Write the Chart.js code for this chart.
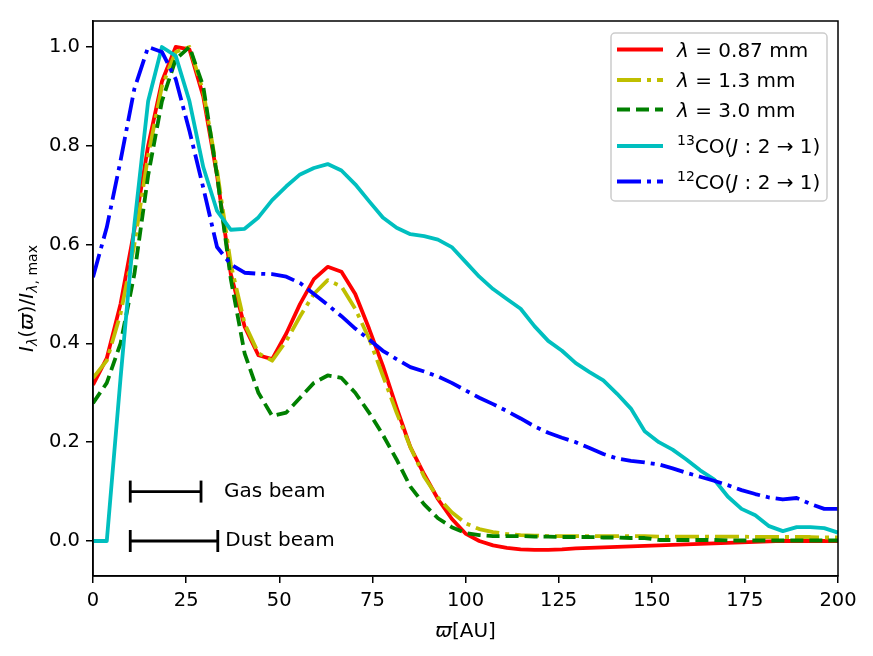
<!DOCTYPE html>
<html>
<head>
<meta charset="utf-8">
<script src="https://cdn.jsdelivr.net/npm/chart.js@4.4.1/dist/chart.umd.min.js"></script>
<style>
  html, body { margin: 0; padding: 0; background: #fff; }
  canvas { display: block; }
</style>
</head>
<body>
<canvas id="profileChart" width="873" height="656"></canvas>
<script>
// radial grid in AU
const radius = [
  0, 3.7, 7.4, 11.1, 14.8, 18.5, 22.2, 25.9, 29.6, 33.3,
  37.0, 40.7, 44.4, 48.1, 51.9, 55.6, 59.3, 63.0, 66.7, 70.4,
  74.1, 77.8, 81.5, 85.2, 88.9, 92.6, 96.3, 100.0, 103.7, 107.4,
  111.1, 114.8, 118.5, 122.2, 125.9, 129.6, 133.3, 137.0, 140.7, 144.4,
  148.1, 151.9, 155.6, 159.3, 163.0, 166.7, 170.4, 174.1, 177.8, 181.5,
  185.2, 188.9, 192.6, 196.3, 200.0
];

// normalised intensity profiles
const flux087 = [
  0.316, 0.37, 0.48, 0.63, 0.80, 0.93, 1.0, 0.995, 0.90, 0.74,
  0.54, 0.434, 0.376, 0.368, 0.42, 0.48, 0.53, 0.555, 0.545, 0.50,
  0.43, 0.355, 0.27, 0.19, 0.135, 0.085, 0.045, 0.015, 0.0, -0.009,
  -0.014, -0.017, -0.018, -0.018, -0.017, -0.015, -0.014, -0.013, -0.012, -0.011,
  -0.010, -0.009, -0.008, -0.007, -0.006, -0.005, -0.004, -0.003, -0.002, -0.001,
  0.0, 0.0, 0.0, 0.0, 0.0
];
const flux13 = [
  0.33, 0.365, 0.46, 0.60, 0.78, 0.92, 0.99, 1.0, 0.91, 0.75,
  0.56, 0.44, 0.38, 0.365, 0.405, 0.455, 0.50, 0.528, 0.515, 0.47,
  0.41, 0.335, 0.26, 0.19, 0.13, 0.088, 0.058, 0.036, 0.024, 0.018,
  0.014, 0.012, 0.011, 0.010, 0.010, 0.010, 0.010, 0.010, 0.010, 0.010,
  0.010, 0.009, 0.009, 0.009, 0.009, 0.009, 0.009, 0.009, 0.008, 0.008,
  0.008, 0.008, 0.008, 0.007, 0.007
];
const flux30 = [
  0.279, 0.32, 0.40, 0.54, 0.74, 0.89, 0.975, 1.0, 0.92, 0.74,
  0.53, 0.38, 0.30, 0.253, 0.26, 0.29, 0.32, 0.335, 0.33, 0.30,
  0.26, 0.215, 0.165, 0.11, 0.074, 0.046, 0.028, 0.016, 0.012, 0.010,
  0.010, 0.010, 0.009, 0.009, 0.008, 0.008, 0.008, 0.007, 0.007, 0.006,
  0.006, 0.002, 0.002, 0.002, 0.002, 0.002, 0.001, 0.001, 0.001, 0.001,
  0.001, 0.001, 0.001, 0.001, 0.001
];
const co13 = [
  0, 0, 0.33, 0.64, 0.89, 1.0, 0.982, 0.89, 0.757, 0.668,
  0.63, 0.632, 0.655, 0.69, 0.718, 0.742, 0.755, 0.763, 0.75, 0.722,
  0.688, 0.655, 0.634, 0.621, 0.617, 0.61, 0.595, 0.565, 0.535, 0.51,
  0.49, 0.47, 0.435, 0.405, 0.385, 0.36, 0.342, 0.325, 0.298, 0.268,
  0.222, 0.2, 0.185, 0.165, 0.143, 0.125, 0.09, 0.065, 0.052, 0.03,
  0.02, 0.028, 0.028, 0.026, 0.017
];
const co12 = [
  0.534, 0.635, 0.77, 0.915, 1.0, 0.99, 0.935, 0.83, 0.715, 0.595,
  0.56, 0.543, 0.541, 0.54, 0.535, 0.522, 0.50, 0.478, 0.455, 0.43,
  0.408, 0.385, 0.368, 0.352, 0.343, 0.333, 0.32, 0.305, 0.29, 0.277,
  0.263, 0.248, 0.232, 0.219, 0.209, 0.2, 0.188, 0.176, 0.167, 0.162,
  0.159, 0.155, 0.147, 0.138, 0.13, 0.122, 0.113, 0.103, 0.095, 0.088,
  0.084, 0.087, 0.075, 0.065, 0.065
];

// beam sizes (AU) and where they are drawn
const gasBeam = [10, 29];
const dustBeam = [10, 33.5];
const gasBeamLevel = 0.1;
const dustBeamLevel = 0.0;
const beamLabels = ['Gas beam', 'Dust beam'];
const beamLabelX = [35.2, 35.5];

const xTicks = [0, 25, 50, 75, 100, 125, 150, 175, 200];
const yTicks = [0.0, 0.2, 0.4, 0.6, 0.8, 1.0];

const FAM = '"DejaVu Sans"';
const DASHED = [13, 6];
const DASHDOT = [24, 6, 4, 6];
const LW = 3.8;

function pts(ys) {
  return radius.map((r, i) => ({ x: r, y: ys[i] }));
}

// draw a row of text pieces with different fonts / offsets
function runWidth(ctx, runs) {
  let w = 0;
  runs.forEach(r => { ctx.font = r.f; w += ctx.measureText(r.t).width; });
  return w;
}
function drawRuns(ctx, runs, x, y) {
  runs.forEach(r => {
    ctx.font = r.f;
    ctx.fillText(r.t, x, y + (r.dy || 0));
    x += ctx.measureText(r.t).width;
  });
}

const normal = '20px ' + FAM;
const italic = 'italic 20px ' + FAM;
const small = '14px ' + FAM;
const smallItalic = 'italic 14px ' + FAM;

function lambdaRow(txt) {
  return [{ t: 'λ', f: italic }, { t: ' = ' + txt, f: normal }];
}
function coRow(iso) {
  return [
    { t: iso, f: small, dy: -8 },
    { t: 'CO(', f: normal },
    { t: 'J', f: italic },
    { t: ' : 2 → 1)', f: normal }
  ];
}

const legendRows = [
  { color: '#ff0000', dash: [], runs: lambdaRow('0.87 mm') },
  { color: '#bfbf00', dash: DASHDOT, runs: lambdaRow('1.3 mm') },
  { color: '#008000', dash: DASHED, runs: lambdaRow('3.0 mm') },
  { color: '#00bfbf', dash: [], runs: coRow('13') },
  { color: '#0000ff', dash: DASHDOT, runs: coRow('12') }
];
const legendBaselines = [56.5, 87, 116.5, 153, 188.5];

const decorations = {
  id: 'decorations',
  afterDatasetsDraw(chart) {
    const ctx = chart.ctx;
    const a = chart.chartArea;
    const xs = chart.scales.x, ys = chart.scales.y;
    ctx.save();
    ctx.fillStyle = '#000';
    ctx.textBaseline = 'alphabetic';

    // beam labels
    ctx.font = normal;
    ctx.fillText(beamLabels[0], xs.getPixelForValue(beamLabelX[0]), ys.getPixelForValue(gasBeamLevel) + 5.5);
    ctx.fillText(beamLabels[1], xs.getPixelForValue(beamLabelX[1]), ys.getPixelForValue(dustBeamLevel) + 5.5);

    // frame
    ctx.strokeStyle = '#000';
    ctx.lineWidth = 1.5;
    ctx.strokeRect(a.left, a.top, a.right - a.left, a.bottom - a.top);

    // legend
    const bx = 611, by = 33, bw = 216, bh = 168, rad = 4;
    ctx.beginPath();
    ctx.moveTo(bx + rad, by);
    ctx.arcTo(bx + bw, by, bx + bw, by + bh, rad);
    ctx.arcTo(bx + bw, by + bh, bx, by + bh, rad);
    ctx.arcTo(bx, by + bh, bx, by, rad);
    ctx.arcTo(bx, by, bx + bw, by, rad);
    ctx.closePath();
    ctx.fillStyle = 'rgba(255,255,255,0.8)';
    ctx.fill();
    ctx.strokeStyle = '#cccccc';
    ctx.lineWidth = 1.5;
    ctx.stroke();

    legendRows.forEach((row, i) => {
      const base = legendBaselines[i];
      const ly = base - 7;
      ctx.beginPath();
      ctx.setLineDash(row.dash);
      ctx.lineCap = 'butt';
      ctx.strokeStyle = row.color;
      ctx.lineWidth = LW;
      ctx.moveTo(617, ly);
      ctx.lineTo(663, ly);
      ctx.stroke();
      ctx.setLineDash([]);
      ctx.fillStyle = '#000';
      drawRuns(ctx, row.runs, 677, base);
    });

    // x axis title
    const xTitle = [{ t: 'ϖ', f: italic }, { t: '[AU]', f: normal }];
    const xw = runWidth(ctx, xTitle);
    drawRuns(ctx, xTitle, (a.left + a.right) / 2 - xw / 2, 637);

    // y axis title
    const yTitle = [
      { t: 'I', f: italic },
      { t: 'λ', f: smallItalic, dy: 4 },
      { t: '(', f: normal },
      { t: 'ϖ', f: italic },
      { t: ')/', f: normal },
      { t: 'I', f: italic },
      { t: 'λ', f: smallItalic, dy: 4 },
      { t: ', max', f: small, dy: 4 }
    ];
    ctx.translate(33, (a.top + a.bottom) / 2);
    ctx.rotate(-Math.PI / 2);
    const yw = runWidth(ctx, yTitle);
    drawRuns(ctx, yTitle, -yw / 2, 0);
    ctx.restore();
  }
};

function curve(label, ys, color, dash, order) {
  return {
    label: label,
    data: pts(ys),
    borderColor: color,
    borderWidth: LW,
    borderDash: dash,
    borderCapStyle: 'butt',
    borderJoinStyle: 'round',
    pointRadius: 0,
    tension: 0,
    fill: false,
    order: order
  };
}
function beam(extent, level) {
  return {
    data: [{ x: extent[0], y: level }, { x: extent[1], y: level }],
    borderColor: '#000',
    borderWidth: 2.8,
    pointStyle: 'line',
    pointRotation: 90,
    pointRadius: 11,
    pointBorderWidth: 2.8,
    pointBorderColor: '#000',
    fill: false,
    order: 0
  };
}

const ctx = document.getElementById('profileChart').getContext('2d');
new Chart(ctx, {
  type: 'line',
  data: {
    datasets: [
      curve('0.87 mm', flux087, '#ff0000', [], 5),
      curve('1.3 mm', flux13, '#bfbf00', DASHDOT, 4),
      curve('3.0 mm', flux30, '#008000', DASHED, 3),
      curve('13CO', co13, '#00bfbf', [], 2),
      curve('12CO', co12, '#0000ff', DASHDOT, 1),
      beam(gasBeam, gasBeamLevel),
      beam(dustBeam, dustBeamLevel)
    ]
  },
  options: {
    responsive: false,
    animation: false,
    devicePixelRatio: 1,
    events: [],
    layout: { padding: { top: 21, right: 35, left: 0, bottom: 0 } },
    plugins: { legend: { display: false }, tooltip: { enabled: false } },
    scales: {
      x: {
        type: 'linear',
        min: 0,
        max: 200,
        afterBuildTicks: s => { s.ticks = xTicks.map(v => ({ value: v })); },
        afterFit: s => { s.height = 80; },
        ticks: { font: { family: 'DejaVu Sans', size: 19.5 }, color: '#000', padding: 6, maxRotation: 0 },
        grid: { drawOnChartArea: false, drawTicks: true, tickLength: 7, color: '#000', lineWidth: 1.5 },
        border: { display: true, color: '#000', width: 1.5 }
      },
      y: {
        type: 'linear',
        min: -0.0709,
        max: 1.0526,
        afterBuildTicks: s => { s.ticks = yTicks.map(v => ({ value: v })); },
        afterFit: s => { s.width = 93; },
        ticks: {
          font: { family: 'DejaVu Sans', size: 19.5 },
          color: '#000',
          padding: 6,
          callback: v => v.toFixed(1)
        },
        grid: { drawOnChartArea: false, drawTicks: true, tickLength: 7, color: '#000', lineWidth: 1.5 },
        border: { display: true, color: '#000', width: 1.5 }
      }
    }
  },
  plugins: [decorations]
});
</script>
</body>
</html>
